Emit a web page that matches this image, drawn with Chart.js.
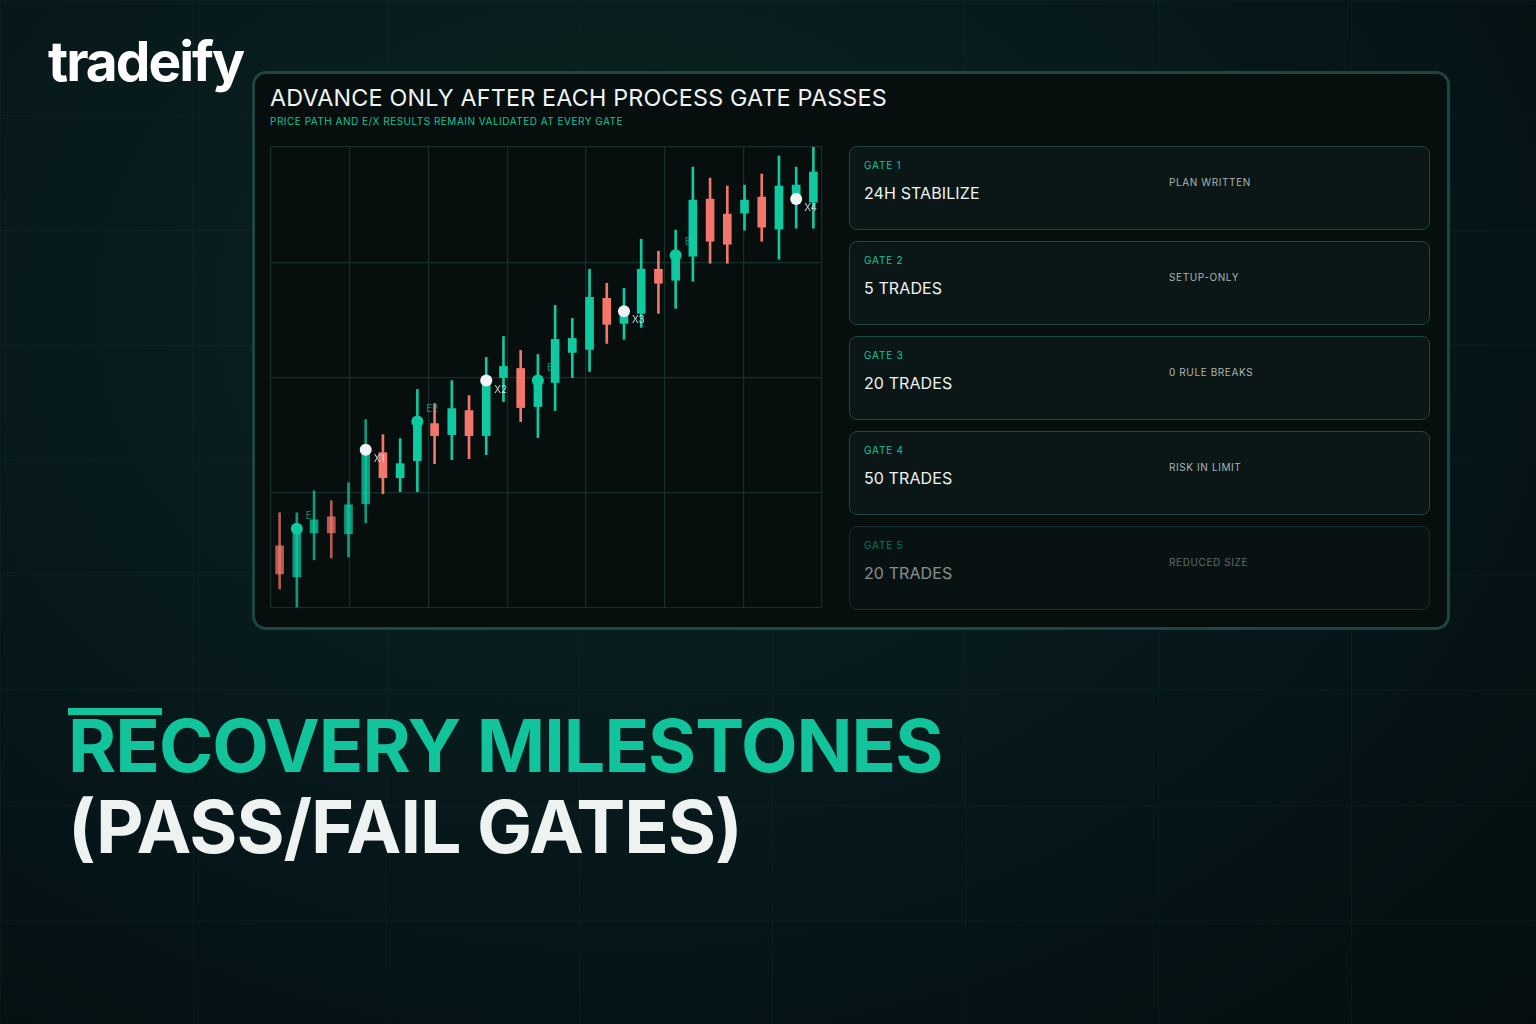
<!DOCTYPE html>
<html>
<head>
<meta charset="utf-8">
<script src="https://cdn.jsdelivr.net/npm/chart.js@4"></script>
<style>
  html, body { margin: 0; padding: 0; }
  body {
    width: 1536px; height: 1024px; overflow: hidden; position: relative;
    font-family: Inter, "Noto Sans", sans-serif;
    background:
      linear-gradient(rgba(40,90,80,0.10) 1px, transparent 1px) 0 0 / 100% 115px,
      linear-gradient(90deg, rgba(40,90,80,0.10) 1px, transparent 1px) 0 0 / 193px 100%,
      radial-gradient(ellipse at 40% 30%, #0b2622 0%, #06161a 60%, #040e0f 100%);
  }
  .logo { position: absolute; left: 48px; top: 28px; color: #fff; font-size: 55px; font-weight: 700; letter-spacing: -2px; }
  .panel {
    position: absolute; left: 252px; top: 71px; width: 1192px; height: 553px;
    border: 3px solid #1d4640; border-radius: 14px; background: #070e0e;
  }
  .title { position: absolute; left: 270px; top: 83px; color: #f0f4f3; font-size: 23.3px; letter-spacing: 0.2px; }
  .sub { position: absolute; left: 270px; top: 115px; color: #12c49b; font-size: 10px; letter-spacing: 0.5px; }
  .chartbox { position: absolute; left: 265px; top: 141px; width: 563px; height: 473px; }
  .card {
    position: absolute; left: 849px; width: 579px; height: 82px;
    border: 1.5px solid #1f4842; border-radius: 8px; background: #0b1716;
  }
  .card .g { position: absolute; left: 14px; top: 12px; color: #12c49b; font-size: 10px; letter-spacing: 0.8px; }
  .card .v { position: absolute; left: 14px; top: 36px; color: #eef3f2; font-size: 16px; letter-spacing: 0.1px; }
  .card .r { position: absolute; left: 319px; top: 29px; color: #a9b6b3; font-size: 10px; letter-spacing: 0.6px; }
  .bar { position: absolute; left: 68px; top: 708px; width: 94px; height: 7px; background: #12c49b; }
  .h1 { position: absolute; left: 68px; top: 701px; color: #12c49b; font-size: 73.5px; font-weight: 700; letter-spacing: -1px; }
  .h2 { position: absolute; left: 68px; top: 782px; color: #eef2f1; font-size: 73.5px; font-weight: 700; letter-spacing: -1px; }
</style>
</head>
<body>
<div class="logo">tradeify</div>
<div class="panel"></div>
<div class="title">ADVANCE ONLY AFTER EACH PROCESS GATE PASSES</div>
<div class="sub">PRICE PATH AND E/X RESULTS REMAIN VALIDATED AT EVERY GATE</div>
<div class="chartbox"><canvas id="c"></canvas></div>
<div id="cards"></div>
<div class="bar"></div>
<div class="h1">RECOVERY MILESTONES</div>
<div class="h2">(PASS/FAIL GATES)</div>
<script>
// candles: open, high, low, close (price units)
const opens  = [62, 31, 75, 91, 74, 104, 155, 130, 147, 184, 173, 197, 172, 230, 239, 201, 225, 255, 258, 309, 284, 294, 338, 327, 351, 408, 393, 394, 410, 378, 409, 405];
const closes = [34, 79, 88, 75, 103, 158, 130, 144, 186, 172, 199, 172, 227, 241, 200, 227, 268, 269, 310, 283, 294, 338, 324, 352, 407, 366, 363, 407, 380, 421, 422, 435];
const highs  = [95, 95, 117, 107, 125, 188, 173, 169, 218, 204, 227, 212, 250, 271, 257, 253, 302, 289, 338, 324, 319, 368, 356, 377, 440, 429, 421, 422, 433, 451, 440, 460];
const lows   = [19, 1, 48, 50, 51, 85, 114, 116, 116, 144, 148, 149, 153, 206, 186, 170, 197, 230, 236, 264, 268, 280, 294, 299, 326, 344, 344, 377, 366, 348, 379, 379];
const gateLabels = ["GATE 1", "GATE 2", "GATE 3", "GATE 4", "GATE 5"];
const gateTargets = ["24H STABILIZE", "5 TRADES", "20 TRADES", "50 TRADES", "20 TRADES"];
const gateChecks = ["PLAN WRITTEN", "SETUP-ONLY", "0 RULE BREAKS", "RISK IN LIMIT", "REDUCED SIZE"];
// entry / exit markers: candle index, price, label
const entryIdx = [1, 8, 15, 23];
const entryPrice = [79, 186, 227, 352];
const entryText = ["E", "E2", "E", "E"];
const exitIdx = [5, 12, 20, 30];
const exitPrice = [158, 227, 296, 408];
const exitText = ["X1", "X2", "X3", "X4"];

const cards = document.getElementById("cards");
gateLabels.forEach((g, i) => {
  const d = document.createElement("div");
  d.className = "card";
  d.style.top = (146 + i * 95) + "px";
  if (i === 4) d.style.opacity = 0.55;
  d.innerHTML = `<div class="g">${g}</div><div class="v">${gateTargets[i]}</div><div class="r">${gateChecks[i]}</div>`;
  cards.appendChild(d);
});

const GREEN = "#0fc9a1";
const labels = opens.map((_, i) => i);
const col = opens.map((o, i) => {
  const up = closes[i] >= o;
  const a = i < 6 ? 0.75 : 1;
  return up ? `rgba(15,201,161,${a})` : `rgba(242,118,106,${a})`;
});

const markerLabels = {
  id: "markerLabels",
  afterDatasetsDraw(chart) {
    const c = chart.ctx;
    c.save();
    c.font = "10px Inter, sans-serif";
    [2, 3].forEach(di => {
      const meta = chart.getDatasetMeta(di);
      const texts = di === 2 ? entryText : exitText;
      meta.data.forEach((pt, k) => {
        c.fillStyle = di === 2 ? "rgba(15,201,161,0.7)" : "rgba(230,235,235,0.85)";
        const dx = di === 2 ? 9 : 8, dy = di === 2 ? -10 : 12;
        c.fillText(texts[k], pt.x + dx, pt.y + dy);
      });
    });
    c.restore();
  }
};

new Chart(document.getElementById("c"), {
  data: {
    labels: labels,
    datasets: [
      { type: "bar", data: opens.map((o, i) => [lows[i], highs[i]]), backgroundColor: col, barThickness: 2, grouped: false, order: 3 },
      { type: "bar", data: opens.map((o, i) => [o, closes[i]]), backgroundColor: col, barThickness: 8, grouped: false, order: 2 },
      { type: "scatter", data: entryIdx.map((x, k) => ({ x: x, y: entryPrice[k] })), pointRadius: 6, pointBackgroundColor: GREEN, pointBorderWidth: 0, order: 1 },
      { type: "scatter", data: exitIdx.map((x, k) => ({ x: x, y: exitPrice[k] })), pointRadius: 6, pointBackgroundColor: "#f1f4f4", pointBorderWidth: 0, order: 0 }
    ]
  },
  options: {
    responsive: true, maintainAspectRatio: false, animation: false,
    layout: { padding: 0 },
    plugins: { legend: { display: false }, tooltip: { enabled: false } },
    scales: {
      x: { type: "category", offset: true, display: false },
      gx: { type: "linear", position: "bottom", min: 0, max: 7, ticks: { display: false, stepSize: 1 },
            grid: { color: "#15302c", lineWidth: 1.2, drawTicks: false }, border: { display: false } },
      y: { min: 0, max: 460, ticks: { display: false, stepSize: 115 },
           grid: { color: "#15302c", lineWidth: 1.2, drawTicks: false }, border: { display: false } }
    }
  },
  plugins: [markerLabels]
});
</script>
</body>
</html>
